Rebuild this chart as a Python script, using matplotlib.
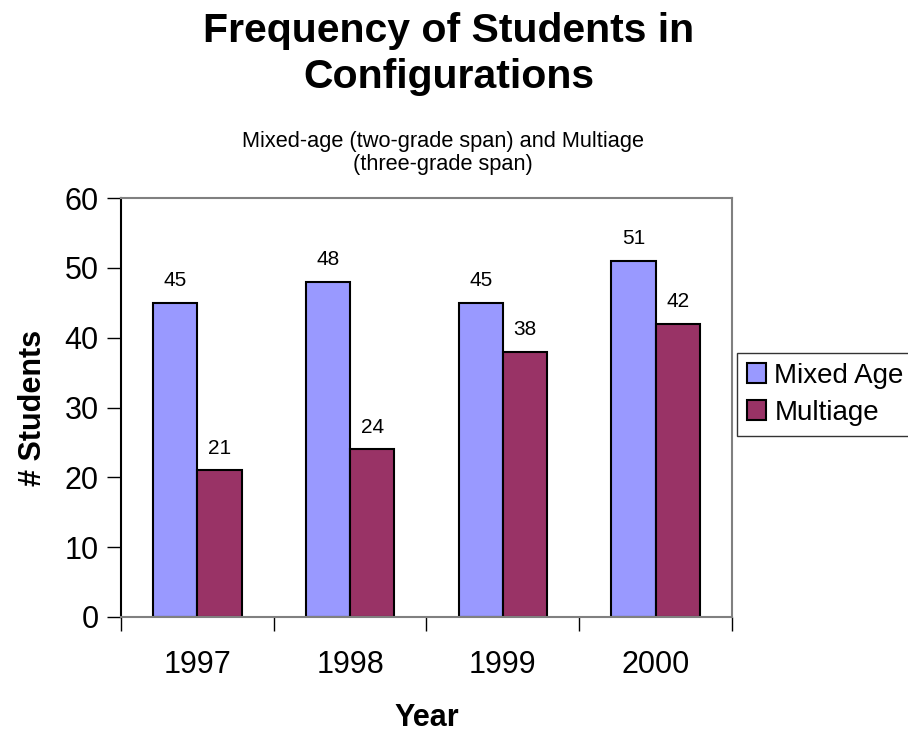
import matplotlib
matplotlib.use("Agg")
import matplotlib.pyplot as plt
import numpy as np
from matplotlib.patches import Patch

plt.rcParams['font.family'] = ['Liberation Sans', 'DejaVu Sans']

years = ["1997", "1998", "1999", "2000"]
mixed_age = [45, 48, 45, 51]
multiage = [21, 24, 38, 42]
series_names = ["Mixed Age", "Multiage"]
colors = ["#9999FF", "#993366"]

fig = plt.figure(figsize=(9.08, 7.33), dpi=100)
ax = fig.add_axes([121/908, 1-617/733, (732-121)/908, (617-198)/733])

x = np.arange(len(years))
w = 0.29
b1 = ax.bar(x - w/2, mixed_age, w, color=colors[0], edgecolor="black", linewidth=1.5)
b2 = ax.bar(x + w/2, multiage, w, color=colors[1], edgecolor="black", linewidth=1.5)

for bars, vals in ((b1, mixed_age), (b2, multiage)):
    for r, v in zip(bars, vals):
        ax.annotate(str(v), (r.get_x() + r.get_width()/2, v), xytext=(0, 16),
                    textcoords="offset points", ha="center", va="center", fontsize=15)

ax.set_xlim(-0.5, len(years) - 0.5)
ax.set_ylim(0, 60)
ax.set_yticks(range(0, 61, 10))
ax.tick_params(axis="y", direction="out", length=10, width=1, labelsize=22, pad=6)
ax.set_xticks(np.arange(len(years) + 1) - 0.5, minor=False)
ax.set_xticklabels([])
ax.set_xticks(x, minor=True)
ax.set_xticklabels(years, minor=True, fontsize=22)
ax.tick_params(axis="x", which="major", direction="out", length=10, width=1)
ax.tick_params(axis="x", which="minor", length=0, pad=24)

ax.spines["left"].set_color("black")
ax.spines["bottom"].set_color("#808080")
ax.spines["top"].set_color("#808080")
ax.spines["right"].set_color("#808080")
for s in ax.spines.values():
    s.set_linewidth(1.5)

ax.set_xlabel("Year", fontsize=22, fontweight="bold", labelpad=16)
ax.set_ylabel("# Students", fontsize=22, fontweight="bold", labelpad=12)

fig.text(449/908, 1 - 54/733, "Frequency of Students in\nConfigurations",
         ha="center", va="center", fontsize=29.5, fontweight="bold", linespacing=1.3)
fig.text(443/908, 1 - 153/733, "Mixed-age (two-grade span) and Multiage\n(three-grade span)",
         ha="center", va="center", fontsize=15.7, linespacing=1.1)

handles = [Patch(facecolor=c, edgecolor="black", linewidth=1.5) for c in colors]
leg = fig.legend(handles, series_names, loc="upper left",
                 bbox_to_anchor=(737/908, 1 - 353/733), fontsize=20,
                 frameon=True, fancybox=False, edgecolor="black",
                 handlelength=0.7, handleheight=0.7, handletextpad=0.3,
                 borderpad=0.35, labelspacing=0.4, borderaxespad=0)
leg.get_frame().set_linewidth(1.0)

fig.savefig("out.png", dpi=100)
